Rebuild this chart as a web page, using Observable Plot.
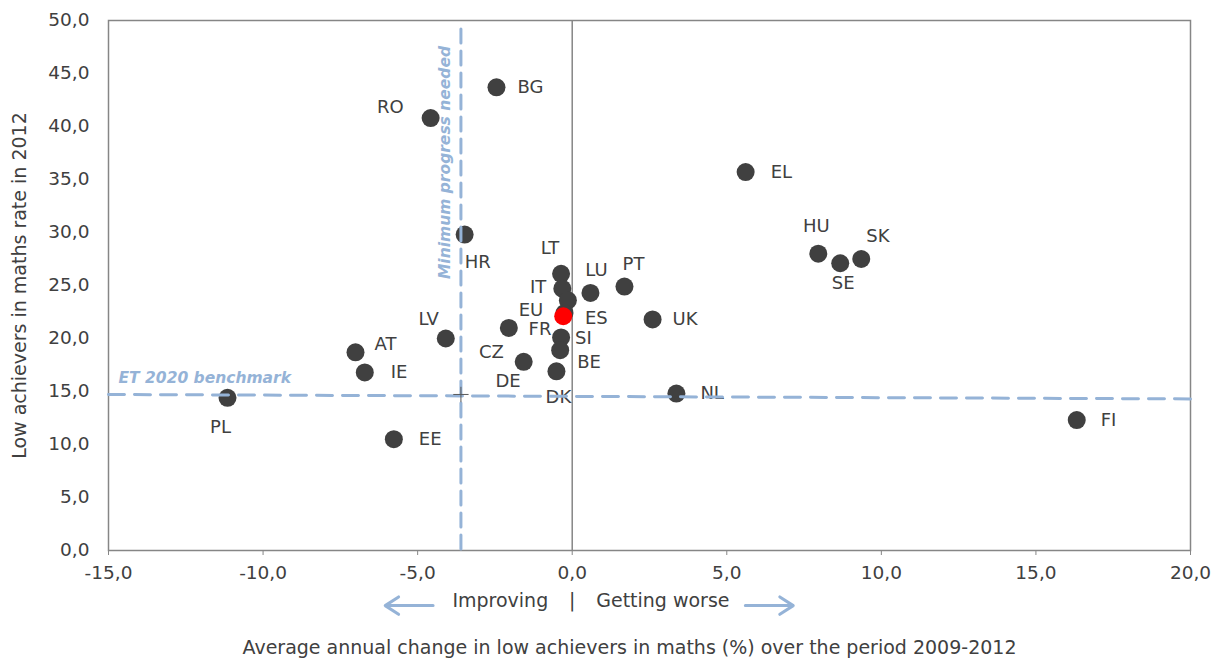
<!DOCTYPE html>
<html><head><meta charset="utf-8">
<script src="https://cdn.jsdelivr.net/npm/d3@7"></script>
<script src="https://cdn.jsdelivr.net/npm/@observablehq/plot@0.6"></script>
<style>body{margin:0;background:#fff;} svg{display:block;}</style>
</head><body><div id="chart"></div>
<script>
// ---- data ----
const countries = ["BG","RO","HR","EL","HU","SE","SK","FI","NL","UK","PT","LU","LT","IT","ES","FR","SI","BE","CZ","DE","DK","LV","AT","IE","PL","EE","EU"];
const annualChange = [-2.45,-4.58,-3.48,5.61,7.96,8.67,9.35,16.32,3.37,2.60,1.69,0.59,-0.36,-0.32,-0.14,-0.25,-0.36,-0.39,-2.05,-1.57,-0.51,-4.09,-7.01,-6.71,-11.15,-5.77,-0.29];
const lowAchievers2012 = [43.7,40.8,29.8,35.7,28.0,27.1,27.5,12.3,14.8,21.8,24.9,24.3,26.1,24.7,23.6,22.4,20.1,18.9,21.0,17.8,16.9,20.0,18.7,16.8,14.4,10.5,22.1];
const xTicks = [-15,-10,-5,0,5,10,15,20];
const yTicks = [0,5,10,15,20,25,30,35,40,45,50];
const benchmarkX = [-15, 20];
const benchmarkY = [14.72, 14.3];
const minProgressX = -3.6;
const minProgressY = [49.2, 0];

// ---- layout: label placement (pixels) ----
const place = {
  BG:["start",21,0], RO:["end",-27,-11], HR:["start",0,28], EL:["start",25,0],
  HU:["middle",-2,-27], SE:["middle",3,20], SK:["start",5,-23], FI:["start",24,0],
  NL:["start",24,0], UK:["start",20,0], PT:["middle",9,-22], LU:["middle",6,-23],
  LT:["middle",-11,-26], IT:["end",-16,-1], ES:["start",17,18], FR:["end",-13,16],
  SI:["start",14,1], BE:["start",17,12], CZ:["end",-5,24], DE:["end",-3,19],
  DK:["middle",2,26], LV:["end",-7,-19], AT:["start",19,-8], IE:["start",26,0],
  PL:["middle",-7,29], EE:["start",25,0], EU:["end",-20,-6]
};

const data = countries.map((c,i)=>({c, x: annualChange[i], y: lowAchievers2012[i]}));
const others = data.filter(d=>d.c!=="EU");
const eu = data.filter(d=>d.c==="EU");
const bench = benchmarkX.map((x,i)=>({x, y: benchmarkY[i]}));
const minProg = minProgressY.map(y=>({x: minProgressX, y}));

const font = "DejaVu Sans, Verdana, sans-serif";
const textCol = "#404040";
const blue = "#95B3D7";
const fmt = d => d.toFixed(1).replace(".", ",");

const labels = data.map(d => Plot.text([d], {
  x: "x", y: "y", text: "c", textAnchor: place[d.c][0],
  dx: place[d.c][1], dy: place[d.c][2], fontSize: 18, fill: textCol
}));

const chart = Plot.plot({
  width: 1217, height: 664,
  marginLeft: 108, marginRight: 27, marginTop: 20, marginBottom: 114,
  style: {fontFamily: font, fontSize: "18px", color: textCol, background: "#fff"},
  x: {domain: [-15, 20]},
  y: {domain: [0, 50]},
  marks: [
    Plot.ruleX([0], {stroke: "#868686", strokeWidth: 1.5}),
    Plot.frame({stroke: "#868686", strokeWidth: 1.5}),
    Plot.axisX({ticks: xTicks, tickFormat: fmt, tickSize: 5, tickPadding: 10, stroke: "#868686", fill: textCol, fontSize: 18.5, label: null}),
    Plot.axisY({ticks: yTicks, tickFormat: fmt, tickSize: 0, tickPadding: 19, fill: textCol, fontSize: 18.5, label: null}),
    Plot.dot(others, {x: "x", y: "y", r: 9, fill: "#404040"}),
    Plot.dot(eu, {x: "x", y: "y", r: 9, fill: "#FF0000"}),
    ...labels,
    Plot.line(bench, {x: "x", y: "y", stroke: blue, strokeWidth: 3, strokeDasharray: "16,10"}),
    Plot.line(minProg, {x: "x", y: "y", stroke: blue, strokeWidth: 3, strokeDasharray: "14,8"}),
    Plot.dot([{x: minProgressX, y: benchmarkY[0]}], {x: "x", y: "y", symbol: "plus", r: 5, stroke: "#595959", strokeWidth: 1}),
    Plot.text(["Minimum progress needed"], {x: minProgressX, y: 36.6, rotate: -90, dx: -16, fontSize: 15.5, fontWeight: "bold", fontStyle: "italic", fill: blue}),
    Plot.text(["ET 2020 benchmark"], {x: benchmarkX[0], y: 16.3, dx: 10, textAnchor: "start", fontSize: 15.5, fontWeight: "bold", fontStyle: "italic", fill: blue}),
    Plot.text(["Low achievers in maths rate in 2012"], {frameAnchor: "left", textAnchor: "middle", rotate: -90, dx: -89, fontSize: 19, fill: textCol}),
    Plot.text(["Average annual change in low achievers in maths (%) over the period 2009-2012"], {frameAnchor: "bottom", dy: 103, dx: -20, fontSize: 19, fill: textCol}),
    Plot.text(["|"], {x: 0, frameAnchor: "bottom", dy: 56, fontSize: 19, fill: textCol}),
    Plot.text(["Improving"], {x: 0, frameAnchor: "bottom", dy: 56, dx: -24, textAnchor: "end", fontSize: 19, fill: textCol}),
    Plot.text(["Getting worse"], {x: 0, frameAnchor: "bottom", dy: 56, dx: 24, textAnchor: "start", fontSize: 19, fill: textCol}),
    Plot.arrow([{x1: -4.5, x2: -6.05}, {x1: 5.6, x2: 7.15}], {x1: "x1", x2: "x2", y1: -5.2, y2: -5.2, stroke: blue, strokeWidth: 3, headLength: 17, headAngle: 66})
  ]
});
document.getElementById("chart").appendChild(chart);
</script>
</body></html>
